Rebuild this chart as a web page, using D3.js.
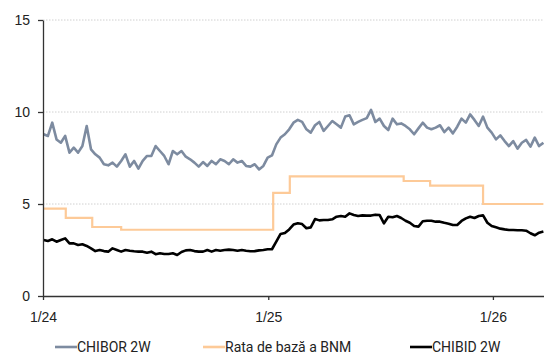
<!DOCTYPE html>
<html>
<head>
<meta charset="utf-8">
<script src="https://cdn.jsdelivr.net/npm/d3@7"></script>
<style>
  body { margin: 0; background: #fff; }
  svg { font-family: Roboto, "Noto Sans", sans-serif; }
  .grid line { stroke: #d0d0d0; stroke-dasharray: 1.5,1.5; }
  .axis path, .axis line { stroke: #333; stroke-width: 1.3; }
  .axis text { font-size: 14px; fill: #222; }
  .legend text { font-size: 14px; fill: #222; }
</style>
</head>
<body>
<div id="chart"></div>
<script>
// weekly observations, first one on 2 Jan 2024
var firstWeek = "2024-01-02";

var chibor = [
  8.79, 8.70, 9.42, 8.51, 8.33, 8.70, 7.79, 8.06, 7.79, 8.15,
  9.24, 7.97, 7.70, 7.52, 7.16, 7.10, 7.25, 7.03, 7.34, 7.70,
  7.03, 7.34, 6.92, 7.34, 7.61, 7.61, 8.15, 7.88, 7.61, 7.16,
  7.88, 7.70, 7.88, 7.57, 7.43, 7.25, 7.03, 7.28, 7.07, 7.34,
  7.16, 7.43, 7.34, 7.16, 7.43, 7.25, 7.34, 7.07, 7.03, 7.16,
  6.88, 7.07, 7.52, 7.64, 8.24, 8.61, 8.79, 9.06, 9.42, 9.57,
  9.46, 9.06, 8.88, 9.28, 9.46, 8.97, 9.24, 9.51, 9.33, 9.15,
  9.75, 9.82, 9.33, 9.46, 9.57, 9.67, 10.11, 9.46, 9.64, 9.24,
  9.02, 9.64, 9.33, 9.38, 9.24, 9.06, 8.79, 9.11, 9.42, 9.15,
  9.06, 9.15, 9.28, 8.91, 9.15, 8.84, 9.20, 9.64, 9.42, 9.87,
  9.57, 9.24, 9.75, 9.15, 8.88, 8.51, 8.73, 8.42, 8.15, 8.42,
  8.01, 8.33, 8.48, 8.12, 8.61, 8.15, 8.33
];

var chibid = [
  3.04, 2.99, 3.08, 2.95, 3.04, 3.13, 2.86, 2.86, 2.77, 2.81,
  2.72, 2.59, 2.44, 2.50, 2.44, 2.41, 2.59, 2.50, 2.41, 2.50,
  2.46, 2.43, 2.41, 2.41, 2.35, 2.41, 2.27, 2.32, 2.28, 2.28,
  2.32, 2.23, 2.39, 2.48, 2.50, 2.44, 2.41, 2.41, 2.50, 2.41,
  2.50, 2.46, 2.50, 2.52, 2.50, 2.46, 2.50, 2.46, 2.43, 2.44,
  2.48, 2.50, 2.54, 2.54, 2.95, 3.37, 3.42, 3.62, 3.88, 3.95,
  3.91, 3.68, 3.73, 4.18, 4.11, 4.13, 4.13, 4.17, 4.31, 4.35,
  4.31, 4.49, 4.40, 4.35, 4.38, 4.37, 4.37, 4.42, 4.40, 3.95,
  4.31, 4.28, 4.35, 4.24, 4.09, 3.98, 3.80, 3.77, 4.06, 4.09,
  4.09, 4.04, 4.04, 3.98, 3.93, 3.86, 3.86, 4.08, 4.22, 4.31,
  4.24, 4.35, 4.38, 3.98, 3.80, 3.73, 3.66, 3.62, 3.59, 3.59,
  3.57, 3.57, 3.55, 3.41, 3.30, 3.44, 3.50
];

// base rate changes (step series)
var rateDates = ["2024-01-01", "2024-02-07", "2024-03-21", "2024-05-07", "2025-01-09",
                 "2025-02-05", "2025-08-09", "2025-09-21", "2025-12-16", "2026-03-24"];
var rateValues = [4.75, 4.25, 3.75, 3.60, 5.60, 6.50, 6.25, 6.00, 5.00, 5.00];

var xTicks = ["2024-01-01", "2025-01-01", "2026-01-01"];
var yTicks = [0, 5, 10, 15];

var seriesNames = ["CHIBOR 2W", "Rata de bază a BNM", "CHIBID 2W"];
var seriesColors = ["#7d8ba0", "#fdca98", "#000000"];

var parse = d3.timeParse("%Y-%m-%d");
var start = parse(firstWeek);
var weeks = chibor.map((d, i) => d3.timeDay.offset(start, 7 * i));

var chiborData = chibor.map((v, i) => ({ date: weeks[i], value: v }));
var chibidData = chibid.map((v, i) => ({ date: weeks[i], value: v }));
var rateData = rateDates.map((d, i) => ({ date: parse(d), value: rateValues[i] }));

var width = 544, height = 356;
var margin = { top: 20, right: 0, bottom: 60, left: 43 };

var svg = d3.select("#chart").append("svg")
  .attr("width", width)
  .attr("height", height);

var x = d3.scaleTime()
  .domain([parse("2024-01-01"), parse("2026-03-25")])
  .range([margin.left, width - margin.right]);

var y = d3.scaleLinear()
  .domain([0, 15])
  .range([height - margin.bottom, margin.top]);

// dotted gridlines
svg.append("g")
  .attr("class", "grid")
  .selectAll("line")
  .data(yTicks.filter(d => d > 0))
  .enter().append("line")
  .attr("x1", margin.left)
  .attr("x2", width - margin.right)
  .attr("y1", d => y(d))
  .attr("y2", d => y(d));

var line = d3.line()
  .x(d => x(d.date))
  .y(d => y(d.value));

svg.append("path")
  .datum(rateData)
  .attr("fill", "none")
  .attr("stroke", seriesColors[1])
  .attr("stroke-width", 2.2)
  .attr("d", line.curve(d3.curveStepAfter));

line.curve(d3.curveLinear);

svg.append("path")
  .datum(chiborData)
  .attr("fill", "none")
  .attr("stroke", seriesColors[0])
  .attr("stroke-width", 2.6)
  .attr("stroke-linejoin", "round")
  .attr("d", line);

svg.append("path")
  .datum(chibidData)
  .attr("fill", "none")
  .attr("stroke", seriesColors[2])
  .attr("stroke-width", 2.6)
  .attr("stroke-linejoin", "round")
  .attr("d", line);

// axes
svg.append("g")
  .attr("class", "axis")
  .attr("transform", "translate(0," + y(0) + ")")
  .call(d3.axisBottom(x)
    .tickValues(xTicks.map(parse))
    .tickFormat(d3.timeFormat("%-m/%y"))
    .tickSize(4)
    .tickSizeOuter(0)
    .tickPadding(12));

svg.append("g")
  .attr("class", "axis")
  .attr("transform", "translate(" + margin.left + ",0)")
  .call(d3.axisLeft(y)
    .tickValues(yTicks)
    .tickSize(5)
    .tickSizeOuter(0)
    .tickPadding(8));

// legend
var legendX = [55, 203, 410];
var legend = svg.append("g").attr("class", "legend");
seriesNames.forEach((name, i) => {
  var g = legend.append("g").attr("transform", "translate(" + legendX[i] + ",347)");
  g.append("line")
    .attr("x1", 0).attr("x2", 22)
    .attr("stroke", seriesColors[i])
    .attr("stroke-width", 2.6);
  g.append("text")
    .attr("x", 22)
    .attr("dy", "0.35em")
    .text(name);
});
</script>
</body>
</html>
